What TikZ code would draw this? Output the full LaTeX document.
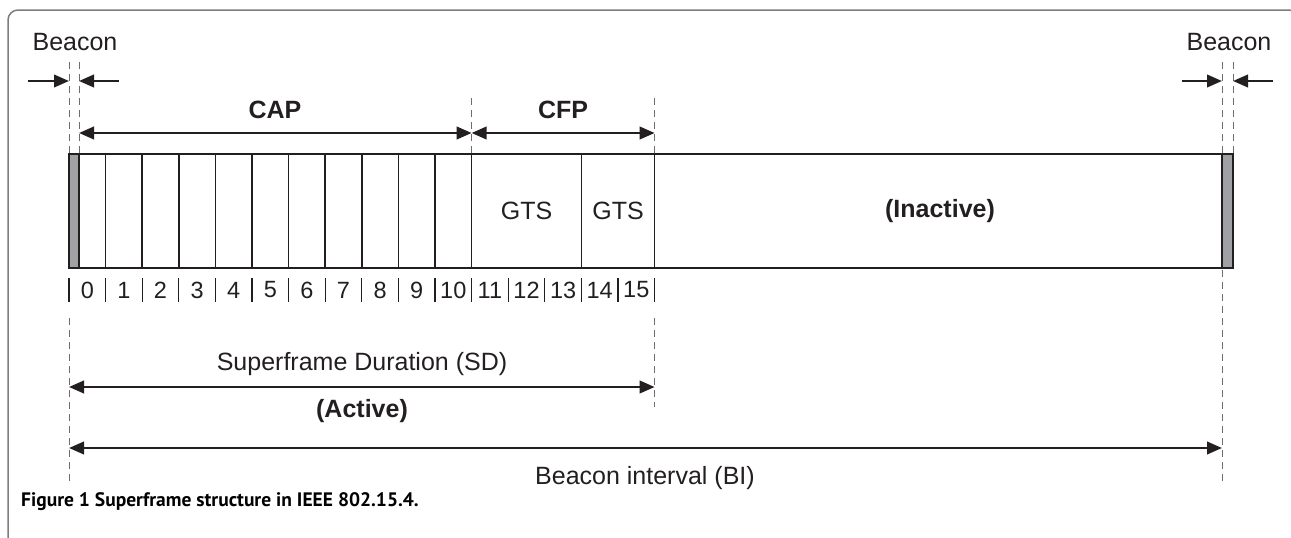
\documentclass[tikz,border=0pt]{standalone}
\usepackage{fontspec}
\setmainfont{Liberation Sans}
\newfontfamily\capfont{PT Sans}
\usetikzlibrary{arrows.meta,calc}
\definecolor{beacongray}{RGB}{160,161,165}
\definecolor{framegray}{RGB}{125,125,125}
\definecolor{linedark}{RGB}{35,31,32}
\definecolor{guidegray}{RGB}{110,110,110}
\begin{document}
\begin{tikzpicture}[x=1pt,y=-1pt,
  lbl/.style={font=\fontsize{25}{29}\selectfont, inner sep=0pt, text=linedark},
  numlbl/.style={font=\fontsize{23.5}{27}\selectfont, inner sep=0pt, text=linedark},
  blbl/.style={font=\fontsize{25}{29}\selectfont\bfseries, inner sep=0pt, text=linedark},
  dimarrow/.style={line width=2.4pt, draw=linedark, {Triangle[length=15pt,width=12.5pt]}-{Triangle[length=15pt,width=12.5pt]}},
  onearrow/.style={line width=2.4pt, draw=linedark, -{Triangle[length=15pt,width=12.5pt]}},
  guide/.style={line width=1pt, draw=guidegray, dash pattern=on 7pt off 5pt},
  tickline/.style={line width=1.3pt, draw=linedark},
  slotline/.style={line width=1.6pt, draw=linedark},
]
\useasboundingbox (0,0) rectangle (1291,538);
% outer frame
\begin{scope}
\clip (0,0) rectangle (1291,538);
\draw[framegray, line width=1.5pt, rounded corners=10pt] (8,570) -- (8,10) -- (1299,10) -- (1299,570);
\end{scope}
% slot boundaries
\foreach \i in {0,...,16} {
  \coordinate (t\i) at ({69+\i*36.6},154);
  \coordinate (b\i) at ({69+\i*36.6},268);
}
\coordinate (RBL) at (1222,154);
\coordinate (RBR) at (1233,154);
\coordinate (RBLb) at (1222,268);
\coordinate (RBRb) at (1233,268);
\coordinate (LBR) at (79,154);
\coordinate (LBRb) at (79,268);
% box
\draw[slotline] (t0) rectangle (RBRb);
\filldraw[slotline, fill=beacongray] (t0) rectangle (LBRb);
\filldraw[slotline, fill=beacongray] (RBL) rectangle (RBRb);
\foreach \i in {1,...,11,14,16} \draw[slotline] (t\i) -- (b\i);
% ticks and numbers
\foreach \i in {0,...,16} \draw[tickline] ($(b\i)+(0,10)$) -- ($(b\i)+(0,34)$);
\foreach \i [evaluate=\i as \j using int(\i+1)] in {0,...,15}
  \node[numlbl] (n\i) at ($(b\i)!0.5!(b\j)+(0,22)$) {\i};
% guides
\draw[guide] ($(t0)+(0,-92)$) coordinate (g0) -- (t0);
\draw[guide] ($(LBR)+(0,-92)$) coordinate (g1) -- (LBR);
\draw[guide] ($(RBL)+(0,-92)$) coordinate (g2) -- (RBL);
\draw[guide] ($(RBR)+(0,-92)$) coordinate (g3) -- (RBR);
\draw[guide] ($(t11)+(0,-56)$) -- (t11);
\draw[guide] ($(t16)+(0,-56)$) -- (t16);
\draw[guide] ($(b0)+(0,50)$) coordinate (d0) -- ($(b0)+(0,214)$) coordinate (d0e);
\draw[guide] ($(b16)+(0,50)$) -- ($(b16)+(0,139)$) coordinate (d16e);
\draw[guide] ($(RBLb)+(0,2)$) -- ($(RBLb)+(0,217)$) coordinate (dre);
% beacon arrows
\coordinate (aL1) at (28,81); \coordinate (aL1e) at (69,81);
\coordinate (aL2) at (119,81); \coordinate (aL2e) at (79,81);
\coordinate (aR1) at (1182,81); \coordinate (aR1e) at (1222,81);
\coordinate (aR2) at (1273,81); \coordinate (aR2e) at (1233,81);
\draw[onearrow] (aL1) -- (aL1e);
\draw[onearrow] (aL2) -- (aL2e);
\draw[onearrow] (aR1) -- (aR1e);
\draw[onearrow] (aR2) -- (aR2e);
% CAP / CFP
\coordinate (cap0) at ($(LBR)+(0,-21)$);
\coordinate (cap1) at ($(t11)+(0,-21)$);
\coordinate (cfp1) at ($(t16)+(0,-21)$);
\draw[dimarrow] (cap0) -- (cap1);
\draw[dimarrow] (cap1) -- (cfp1);
\node[blbl] (CAP) at (275,110) {CAP};
\node[blbl] (CFP) at (563,110) {CFP};
% SD / BI
\coordinate (sd0) at (69,387); \coordinate (sd1) at ($(t16)+(0,233)$);
\draw[dimarrow] (sd0) -- (sd1);
\coordinate (bi0) at (69,448); \coordinate (bi1) at (1222,448);
\draw[dimarrow] (bi0) -- (bi1);
% labels
\node[lbl] (beaconL) at (75,42) {Beacon};
\node[lbl] (beaconR) at (1229,42) {Beacon};
\node[lbl] (gts1) at ($(t11)!0.5!(b14)$) {GTS};
\node[lbl] (gts2) at ($(t14)!0.5!(b16)$) {GTS};
\node[blbl] (inactive) at (940,211) {(Inactive)};
\node[lbl] (sd) at (362,364) {Superframe Duration (SD)};
\node[blbl] (active) at (362,411) {(Active)};
\node[lbl] (bi) at (645,478) {Beacon interval (BI)};
\node[anchor=west, inner sep=0pt, font=\capfont\fontsize{19.5}{23}\selectfont\bfseries] (cap) at (21,502) {Figure 1 Superframe structure in IEEE 802.15.4.};
\end{tikzpicture}
\end{document}
